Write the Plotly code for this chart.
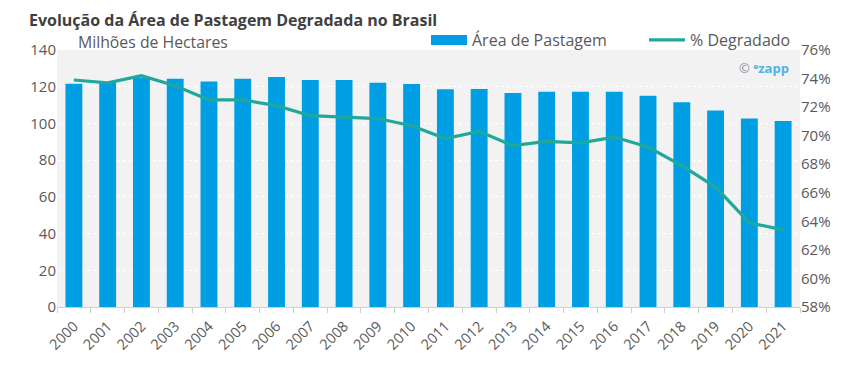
import plotly.graph_objects as go

years = [str(y) for y in range(2000, 2022)]
area_pastagem = [121.6, 122.4, 125.0, 124.4, 122.9, 124.4, 125.3, 123.7, 123.7, 122.2, 121.5,
                 118.6, 118.7, 116.6, 117.3, 117.3, 117.3, 115.1, 111.5, 107.1, 102.7, 101.3]
pct_degradado = [73.9, 73.7, 74.2, 73.5, 72.5, 72.5, 72.1, 71.4, 71.3, 71.2, 70.7,
                 69.8, 70.3, 69.3, 69.6, 69.5, 69.9, 69.2, 67.9, 66.4, 63.9, 63.4]

bar_color = "#009fe3"
line_color = "#20a89b"
txt = "#595959"
font_family = "Open Sans, Noto Sans, sans-serif"

# page body has an 8px margin, so the figure is drawn 8px smaller
W, H = 851, 358
ML, MR, MT, MB = 49, 59, 42, 59
PH = H - MT - MB

fig = go.Figure()
fig.add_trace(go.Bar(x=years, y=area_pastagem, name="Área de Pastagem",
                     marker=dict(color=bar_color, line=dict(width=0)), yaxis="y",
                     showlegend=False))
# legend swatch for bars (wide rectangle like the reference)
fig.add_trace(go.Scatter(x=[None], y=[None], name="Área de Pastagem", mode="lines",
                         line=dict(color=bar_color, width=10), yaxis="y"))
fig.add_trace(go.Scatter(x=years, y=[v / 100 for v in pct_degradado], name="% Degradado",
                         mode="lines", line=dict(color=line_color, width=3.2), yaxis="y2"))

fig.update_layout(
    width=W, height=H,
    margin=dict(l=ML, r=MR, t=MT, b=MB, autoexpand=False),
    paper_bgcolor="white", plot_bgcolor="#f2f2f2",
    font=dict(family=font_family, color=txt, size=14),
    bargap=0.5,
    showlegend=True,
    legend=dict(orientation="h", xref="container", yref="container",
                x=(436 - 8 - 10) / W, xanchor="left", y=1 - 32 / H, yanchor="middle",
                bgcolor="rgba(0,0,0,0)", font=dict(size=16, color=txt),
                entrywidth=167, itemwidth=36, traceorder="normal"),
    xaxis=dict(type="category", tickangle=-45, showgrid=False, ticks="outside",
               tickson="boundaries", ticklen=5, tickcolor="#d0d0d0",
               showline=True, linecolor="#d0d0d0", tickfont=dict(size=14.5, color=txt),
               ticklabelstandoff=4),
    yaxis=dict(range=[0, 140], dtick=20, showgrid=True, gridcolor="white",
               griddash="dot", gridwidth=1, zeroline=False, tickfont=dict(size=15, color=txt)),
    yaxis2=dict(range=[0.58, 0.76], dtick=0.02, tickformat=".0%", overlaying="y",
                side="right", showgrid=False, zeroline=False,
                tickfont=dict(size=15, color=txt)),
    annotations=[
        dict(text="<b>Evolução da Área de Pastagem Degradada no Brasil</b>", xref="paper",
             yref="paper", x=(28 - 57) / 743, y=1 + MT / PH, xanchor="left", yanchor="top",
             showarrow=False, borderpad=0, font=dict(size=16, color="#404040")),
        dict(text="Milhões de Hectares", xref="paper", yref="paper", x=(77 - 57) / 743, y=1.0,
             xanchor="left", yanchor="bottom", yshift=-4, showarrow=False, borderpad=0,
             font=dict(size=15.8, color=txt)),
        dict(text="<span style='color:#8e8e9e'>©</span> <b>ᵉzapp</b>", xref="paper", yref="paper",
             x=(791 - 57) / 743, y=(307 - 68) / 257, xanchor="right", yanchor="middle",
             showarrow=False, font=dict(size=13, color="#4fb3e8")),
    ],
)

fig.write_html("out.html")
